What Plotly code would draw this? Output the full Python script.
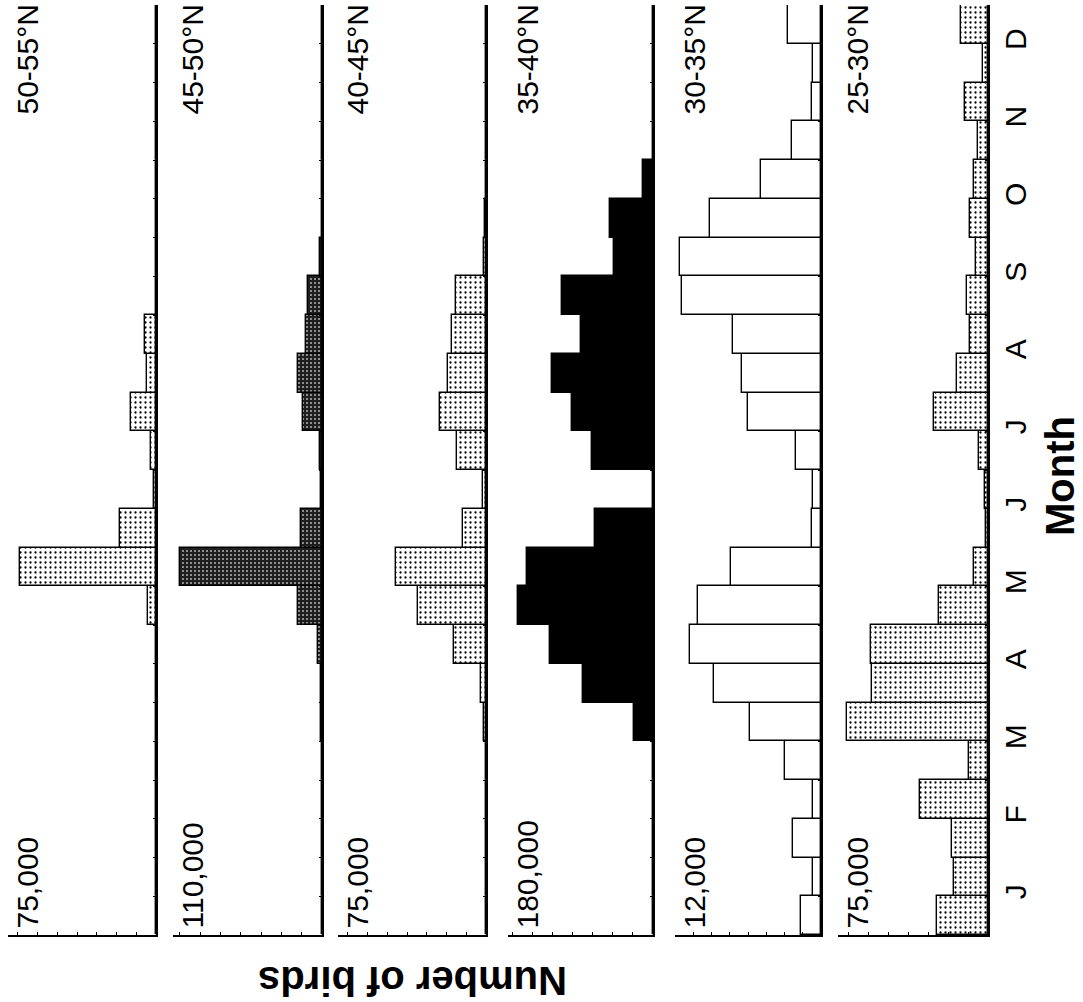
import plotly.graph_objects as go

# ---- data: semi-monthly counts of birds per latitude band (early Jan ... late Dec) ----
months = ["J", "F", "M", "A", "M", "J", "J", "A", "S", "O", "N", "D"]
bands = ["50-55°N", "45-50°N", "40-45°N", "35-40°N", "30-35°N", "25-30°N"]
scale_max = [75000, 110000, 75000, 180000, 12000, 75000]

birds_50_55 = [0, 0, 0, 0, 0, 0, 0, 0, 4000, 69000, 18000, 800,
               2600, 12700, 4400, 5800, 0, 0, 0, 0, 0, 0, 0, 0]
birds_45_50 = [0, 0, 0, 0, 0, 400, 800, 3000, 17500, 105000, 15800, 1000,
               1800, 13800, 17600, 12000, 10200, 1500, 0, 0, 0, 0, 0, 0]
birds_40_45 = [0, 0, 0, 0, 0, 800, 2300, 16300, 34300, 45600, 11600, 1400,
               14500, 23200, 19200, 17400, 15400, 900, 700, 0, 0, 0, 0, 0]
birds_35_40 = [0, 0, 0, 0, 0, 24000, 87000, 128000, 167000, 156000, 71500, 0,
               75700, 100600, 125000, 89500, 113000, 48800, 53000, 12800, 0, 0, 0, 0]
birds_30_35 = [1670, 620, 2320, 680, 2970, 5800, 8830, 10750, 10100, 7410, 760, 620,
               2040, 6010, 6520, 7230, 11400, 11600, 9150, 4960, 2400, 710, 620, 2750]
birds_25_30 = [25300, 17200, 18100, 34000, 9500, 70700, 57800, 58600, 24500, 6900, 900, 1700,
               4300, 26800, 15300, 8900, 10600, 6000, 8900, 7200, 5100, 11400, 2600, 13600]

series = [birds_50_55, birds_45_50, birds_40_45, birds_35_40, birds_30_35, birds_25_30]

# ---- page geometry (pixels) ----
W, H = 1083, 1002
TOP, BOTTOM = 5, 935                      # plot area top / bottom edge
strip_left = [8, 173, 338, 508, 675, 838]
strip_right = [156, 322, 486, 653, 821, 988]
tick_step = [10000, 15000, 10000, 25000, 1500, 10000]

FONT = "Liberation Sans, Arial, Helvetica, sans-serif"


def px(xp):
    return xp / W


def py(yp):
    return (BOTTOM - yp) / (BOTTOM - TOP)


dots_light = dict(shape=".", bgcolor="white", fgcolor="black", size=5, solidity=0.16, fillmode="replace")
dots_dark = dict(shape=".", bgcolor="#1e1e1e", fgcolor="#a8a8a8", size=4, solidity=0.22, fillmode="replace")
styles = [
    dict(pattern=dots_light),
    dict(pattern=dots_dark),
    dict(pattern=dots_light),
    dict(color="black"),
    dict(color="white"),
    dict(pattern=dots_light),
]

n_periods = len(birds_50_55)
period_centres = [i + 0.5 for i in range(n_periods)]

fig = go.Figure()
layout = dict(
    width=W, height=H,
    margin=dict(l=0, r=0, t=TOP, b=H - BOTTOM, pad=0),
    paper_bgcolor="white", plot_bgcolor="white",
    showlegend=False, bargap=0,
    font=dict(family=FONT, color="black"),
)

annotations = []
for k in range(6):
    xa = "x" if k == 0 else f"x{k + 1}"
    ya = "y" if k == 0 else f"y{k + 1}"
    marker = dict(styles[k])
    marker["line"] = dict(color="black", width=1.4)
    fig.add_trace(go.Bar(
        x=series[k], y=period_centres, orientation="h", width=1,
        xaxis=xa, yaxis=ya, marker=marker, hoverinfo="x+y",
    ))

    xkey = "xaxis" if k == 0 else f"xaxis{k + 1}"
    ykey = "yaxis" if k == 0 else f"yaxis{k + 1}"
    layout[xkey] = dict(
        domain=[px(strip_left[k]), px(strip_right[k])],
        anchor=ya, range=[scale_max[k], 0],
        showline=True, linecolor="black", linewidth=1.5,
        ticks="inside", ticklen=3, tickwidth=1, tickcolor="black",
        tick0=0, dtick=tick_step[k], showticklabels=False,
        showgrid=False, zeroline=False, fixedrange=True,
    )
    last = k == 5
    layout[ykey] = dict(
        domain=[0, 1], anchor=xa, side="right", range=[0, n_periods],
        showline=True, linecolor="black", linewidth=1.5,
        tickmode="array",
        tickvals=[2 * m + 1 for m in range(12)], ticktext=months,
        ticks="", showticklabels=last, tickangle=-90,
        tickfont=dict(size=30, family=FONT, color="black"),
        ticklabelstandoff=0,
        minor=dict(tickvals=list(range(1, n_periods)), ticks="inside",
                   ticklen=3, tickwidth=1, tickcolor="black", showgrid=False),
        showgrid=False, zeroline=False, fixedrange=True, automargin=False,
    )

    # latitude band name at the top of the strip
    annotations.append(dict(
        text=bands[k], xref="paper", yref="paper",
        x=px(strip_left[k] + 1), y=py(TOP - 2), xanchor="left", yanchor="top",
        textangle=-90, showarrow=False, font=dict(size=30, family=FONT, color="black"),
    ))
    # full-scale value of the strip
    annotations.append(dict(
        text=f"{scale_max[k]:,}", xref="paper", yref="paper",
        x=px(strip_left[k]), y=py(BOTTOM - 4), xanchor="left", yanchor="bottom",
        textangle=-90, showarrow=False, font=dict(size=30, family=FONT, color="black"),
    ))

annotations.append(dict(
    text="<b>Month</b>", xref="paper", yref="paper",
    x=px(1060), y=py(476), xanchor="center", yanchor="middle",
    textangle=-90, showarrow=False, borderpad=0,
    font=dict(size=40, family=FONT, color="black"),
))
annotations.append(dict(
    text="<b>Number of birds</b>", xref="paper", yref="paper",
    x=px(413), y=py(981), xanchor="center", yanchor="middle",
    textangle=180, showarrow=False, font=dict(size=40, family=FONT, color="black"),
))
layout["annotations"] = annotations

fig.update_layout(**layout)
fig.write_html("out.html")
